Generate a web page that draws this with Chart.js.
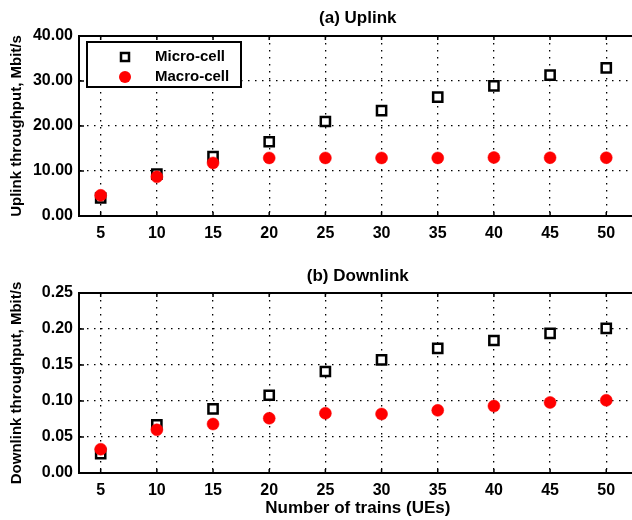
<!DOCTYPE html>
<html>
<head>
<meta charset="utf-8">
<script src="https://cdn.jsdelivr.net/npm/chart.js@4.4.1/dist/chart.umd.min.js"></script>
<style>
  html, body { margin: 0; padding: 0; background: #fff; overflow: hidden; width: 632px; height: 520px; }
  #up { position: absolute; left: 0; top: 0; }
  #down { position: absolute; left: 0; top: 250px; }
</style>
</head>
<body>
<canvas id="up" width="650" height="250"></canvas>
<canvas id="down" width="650" height="270"></canvas>
<script>
// number of trains (UEs) on the x axis
const trains = [5, 10, 15, 20, 25, 30, 35, 40, 45, 50];

// (a) uplink throughput, Mbit/s
const upMicro = [4.0, 9.3, 13.2, 16.5, 21.0, 23.4, 26.4, 28.9, 31.3, 32.9];
const upMacro = [4.6, 8.7, 11.8, 12.9, 12.9, 12.9, 12.9, 13.0, 12.95, 12.95];

// (b) downlink throughput, Mbit/s
const downMicro = [0.027, 0.067, 0.089, 0.108, 0.141, 0.157, 0.173, 0.184, 0.194, 0.201];
const downMacro = [0.033, 0.060, 0.068, 0.076, 0.083, 0.082, 0.087, 0.093, 0.098, 0.101];

const upTicks = [0, 10, 20, 30, 40];
const downTicks = [0, 0.05, 0.10, 0.15, 0.20, 0.25];

const seriesNames = ['Micro-cell', 'Macro-cell'];

Chart.defaults.font.family = "'Liberation Sans', Arial, sans-serif";
Chart.defaults.font.weight = 'bold';
Chart.defaults.color = '#000';

function pts(vals) {
  return trains.map((x, i) => ({ x: x, y: vals[i] }));
}

// solid top border + short inward tick marks, like the original plot
const frame = {
  id: 'frame',
  afterDraw(chart) {
    const { ctx, chartArea: a, scales } = chart;
    ctx.save();
    ctx.strokeStyle = '#000';
    ctx.lineWidth = 2;
    ctx.beginPath();
    ctx.moveTo(a.left, a.top);
    ctx.lineTo(a.right, a.top);
    ctx.stroke();
    ctx.lineWidth = 1.5;
    ctx.beginPath();
    trains.forEach(v => {
      const px = scales.x.getPixelForValue(v);
      ctx.moveTo(px, a.bottom); ctx.lineTo(px, a.bottom - 4);
      ctx.moveTo(px, a.top); ctx.lineTo(px, a.top + 4);
    });
    scales.y.ticks.forEach(t => {
      const py = scales.y.getPixelForValue(t.value);
      ctx.moveTo(a.left, py); ctx.lineTo(a.left + 5, py);
    });
    ctx.stroke();
    ctx.restore();
  }
};

// boxed legend in the upper left corner of the uplink plot
const boxLegend = {
  id: 'boxLegend',
  afterDraw(chart, args, opts) {
    if (!opts.show) return;
    const { ctx } = chart;
    const x0 = 87, y0 = 42, w = 154, h = 45;
    ctx.save();
    ctx.fillStyle = '#fff';
    ctx.fillRect(x0, y0, w, h);
    ctx.strokeStyle = '#000';
    ctx.lineWidth = 2;
    ctx.strokeRect(x0, y0, w, h);
    // square
    ctx.lineWidth = 2.5;
    ctx.strokeRect(121, 53, 8, 8);
    // circle
    ctx.fillStyle = '#ff0000';
    ctx.beginPath();
    ctx.arc(125, 77, 6, 0, Math.PI * 2);
    ctx.fill();
    ctx.fillStyle = '#000';
    ctx.font = "bold 15px 'Liberation Sans', Arial, sans-serif";
    ctx.textBaseline = 'middle';
    ctx.fillText(seriesNames[0], 155, 57);
    ctx.fillText(seriesNames[1], 155, 77);
    ctx.restore();
  }
};

function makeChart(id, opt) {
  return new Chart(document.getElementById(id), {
    type: 'scatter',
    data: {
      datasets: [
        {
          label: seriesNames[0],
          data: pts(opt.micro),
          order: 1,
          pointStyle: 'rect',
          pointRadius: 6.5,
          pointBorderWidth: 2.5,
          borderColor: '#000',
          backgroundColor: '#fff'
        },
        {
          label: seriesNames[1],
          data: pts(opt.macro),
          order: 0,
          pointStyle: 'circle',
          pointRadius: 6,
          pointBorderWidth: 0.5,
          borderColor: '#ff0000',
          backgroundColor: '#ff0000'
        }
      ]
    },
    options: {
      responsive: false,
      animation: false,
      devicePixelRatio: 1,
      layout: { padding: { left: 0, right: 13.4, top: 0, bottom: 0 } },
      plugins: {
        legend: { display: false },
        tooltip: { enabled: false },
        title: {
          display: true,
          text: opt.title,
          fullSize: false,
          color: '#000',
          font: { size: 17, weight: 'bold' },
          padding: opt.titlePad
        },
        boxLegend: { show: opt.legend }
      },
      scales: {
        x: {
          type: 'linear',
          min: 3.07,
          max: 52.7,
          afterBuildTicks: s => { s.ticks = trains.map(v => ({ value: v })); },
          afterFit: s => { s.height = opt.xHeight; },
          ticks: { padding: 8, font: { size: 16, weight: 'bold' }, color: '#000' },
          grid: { color: '#000', lineWidth: 1.3, drawTicks: false },
          border: { color: '#000', width: 2, dash: [1.5, 5.5] },
          title: {
            display: !!opt.xTitle,
            text: opt.xTitle || '',
            color: '#000',
            font: { size: 17, weight: 'bold' },
            padding: { top: 0, bottom: 1.5 }
          }
        },
        y: {
          min: opt.yTicks[0],
          max: opt.yTicks[opt.yTicks.length - 1],
          afterBuildTicks: s => { s.ticks = opt.yTicks.map(v => ({ value: v })); },
          afterFit: s => { s.width = 79; },
          ticks: {
            padding: 6,
            font: { size: 16, weight: 'bold' },
            color: '#000',
            callback: v => v.toFixed(2)
          },
          grid: { color: '#000', lineWidth: 1.3, drawTicks: false },
          border: { color: '#000', width: 2, dash: [1.5, 5.5] },
          title: {
            display: true,
            text: opt.yTitle,
            color: '#000',
            font: { size: 15, weight: 'bold' },
            padding: { top: 8, bottom: 0 }
          }
        }
      }
    },
    plugins: [frame, boxLegend]
  });
}

makeChart('up', {
  title: '(a) Uplink',
  titlePad: { top: 7.8, bottom: 7.8 },
  yTitle: 'Uplink throughput, Mbit/s',
  micro: upMicro,
  macro: upMacro,
  yTicks: upTicks,
  xHeight: 34,
  legend: true
});

makeChart('down', {
  title: '(b) Downlink',
  titlePad: { top: 15.8, bottom: 6.8 },
  yTitle: 'Downlink throughput, Mbit/s',
  xTitle: 'Number of trains (UEs)',
  micro: downMicro,
  macro: downMacro,
  yTicks: downTicks,
  xHeight: 47,
  legend: false
});
</script>
</body>
</html>
